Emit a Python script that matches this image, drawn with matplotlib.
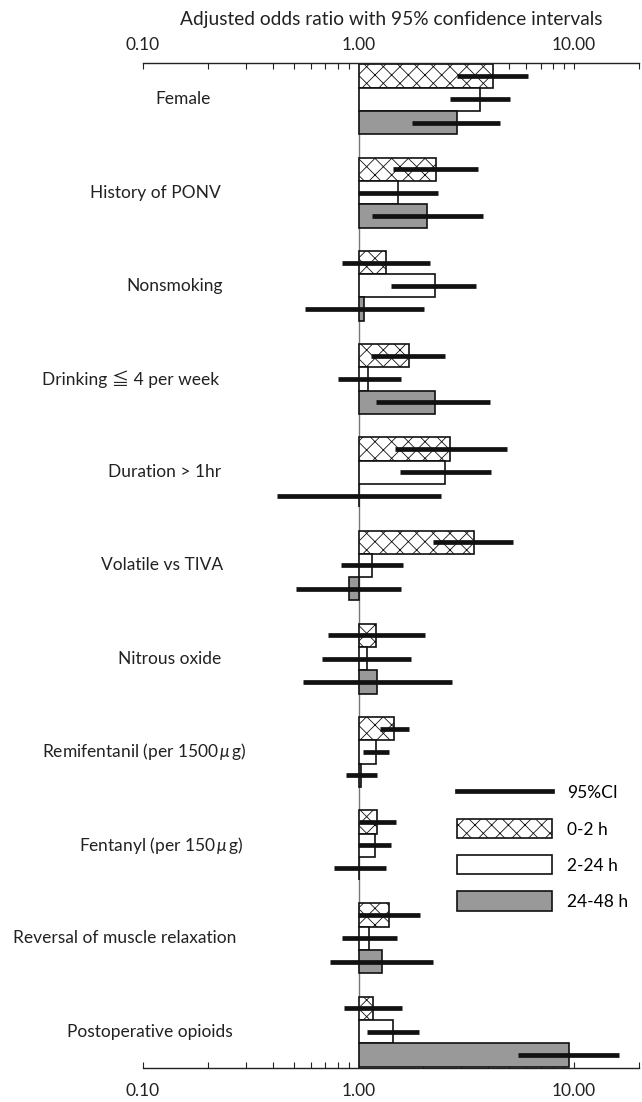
import matplotlib
matplotlib.use('Agg')
import matplotlib.pyplot as plt
import matplotlib.ticker as mticker
import matplotlib.transforms as mtransforms
from matplotlib.patches import Patch
from matplotlib.lines import Line2D
import numpy as np

plt.rcParams['font.family'] = ['Lato', 'Noto Sans CJK JP', 'DejaVu Sans']
plt.rcParams['mathtext.fontset'] = 'custom'
plt.rcParams['mathtext.it'] = 'Lato:italic'
plt.rcParams['mathtext.rm'] = 'Lato'
plt.rcParams['hatch.linewidth'] = 0.6

categories = ['Female', 'History of PONV', 'Nonsmoking', 'Drinking \u2266 4 per week',
              'Duration > 1hr', 'Volatile vs TIVA', 'Nitrous oxide',
              'Remifentanil (per 1500$\\,\\mu\\,$g)', 'Fentanyl (per 150$\\,\\mu\\,$g)',
              'Reversal of muscle relaxation', 'Postoperative opioids']

# odds ratios and 95% CI per time window
or_02 = [4.20, 2.28, 1.34, 1.71, 2.67, 3.45, 1.20, 1.46, 1.22, 1.38, 1.17]
lo_02 = [2.87, 1.44, 0.84, 1.14, 1.47, 2.22, 0.72, 1.26, 1.01, 0.99, 0.86]
hi_02 = [6.10, 3.57, 2.15, 2.53, 4.86, 5.21, 2.03, 1.72, 1.49, 1.93, 1.59]

or_224 = [3.67, 1.52, 2.26, 1.11, 2.52, 1.15, 1.09, 1.21, 1.19, 1.12, 1.44]
lo_224 = [2.66, 0.99, 1.42, 0.80, 1.55, 0.83, 0.675, 1.05, 0.99, 0.84, 1.09]
hi_224 = [5.05, 2.33, 3.51, 1.57, 4.11, 1.61, 1.76, 1.38, 1.42, 1.51, 1.91]

or_2448 = [2.86, 2.08, 1.06, 2.26, 1.00, 0.90, 1.22, 1.03, 1.01, 1.28, 9.44]
lo_2448 = [1.77, 1.16, 0.565, 1.21, 0.42, 0.51, 0.555, 0.87, 0.77, 0.74, 5.52]
hi_2448 = [4.53, 3.77, 2.02, 4.07, 2.40, 1.57, 2.70, 1.22, 1.34, 2.22, 16.2]

series = ['0-2 h', '2-24 h', '24-48 h']

# right edge of each category label, in pixels
label_right = [211, 221, 223, 219, 221, 223, 221, 246, 243, 236, 233]

W, H = 642, 1102
fig = plt.figure(figsize=(W / 100, H / 100), dpi=100)
ax = fig.add_axes([143 / W, 1 - 1068 / H, (639 - 143) / W, (1068 - 63) / H])

ax.set_xscale('log')
ax.set_xlim(0.1, 20)
ax.set_ylim(10.39, -0.39)

ax.axvline(1.0, color='#777777', lw=1.0, zorder=1)

y = np.arange(len(categories))
h = 0.25
styles = [dict(facecolor='white', hatch='xx'),
          dict(facecolor='white'),
          dict(facecolor='#999999')]
data = [(or_02, lo_02, hi_02), (or_224, lo_224, hi_224), (or_2448, lo_2448, hi_2448)]

for k, (vals, lo, hi) in enumerate(data):
    yy = y + (k - 1) * h
    vals = np.array(vals)
    ax.barh(yy, vals - 1, left=1, height=h, edgecolor='#111111',
            linewidth=1.2, zorder=2, **styles[k])
    ax.hlines(yy, lo, hi, color='#111111', lw=3.4, zorder=3)

trans = mtransforms.blended_transform_factory(fig.transFigure, ax.transData)
for i, lab in enumerate(categories):
    ax.text(label_right[i] / W, i, lab, transform=trans, ha='right', va='center',
            fontsize=12.5, color='#222222')

for s in ['left', 'right']:
    ax.spines[s].set_visible(False)
for s in ['top', 'bottom']:
    ax.spines[s].set_linewidth(1.0)
    ax.spines[s].set_color('#222222')

ax.set_yticks([])
ax.xaxis.set_major_locator(mticker.FixedLocator([0.1, 1, 10]))
ax.xaxis.set_major_formatter(mticker.FixedFormatter(['0.10', '1.00', '10.00']))
ax.xaxis.set_minor_locator(mticker.LogLocator(base=10, subs=np.arange(2, 10)))
ax.xaxis.set_minor_formatter(mticker.NullFormatter())
ax.tick_params(axis='x', which='both', direction='in', length=4, width=0.8,
               top=True, bottom=True, labeltop=True, labelbottom=True,
               labelsize=12.5, pad=11, colors='#222222')
# top labels sit a little closer to the axis than the bottom ones
for t in ax.xaxis.get_major_ticks(3):
    t.label2.set_y(1 - 5 / 1005)

ax.set_title('Adjusted odds ratio with 95% confidence intervals', fontsize=13.8,
             pad=27, color='#222222')

handles = [Line2D([0], [0], color='#111111', lw=3.4),
           Patch(facecolor='white', edgecolor='#111111', hatch='xx', linewidth=1.2),
           Patch(facecolor='white', edgecolor='#111111', linewidth=1.2),
           Patch(facecolor='#999999', edgecolor='#111111', linewidth=1.2)]
labels = ['95%CI'] + series
ax.legend(handles, labels, loc='upper left', bbox_to_anchor=(457 / W, 1 - 783 / H),
          bbox_transform=fig.transFigure, frameon=False, fontsize=12.5,
          handlelength=5.5, handleheight=1.32, labelspacing=0.98,
          handletextpad=0.85, borderpad=0, borderaxespad=0)

fig.savefig('out.png', dpi=100)
